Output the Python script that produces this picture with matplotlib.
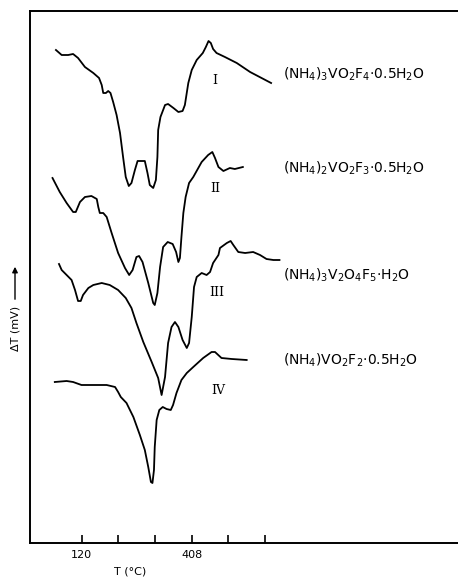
import matplotlib
matplotlib.use("Agg")
import matplotlib.pyplot as plt

plt.rcParams['mathtext.default'] = 'regular'

# DTA traces, T in deg C, dT in arbitrary units (offset per curve as in the figure)
T1 = [52, 67, 84, 97, 110, 128, 150, 165, 172, 176, 183, 189, 195, 202, 211, 220, 228, 235,
      243, 250, 259, 266, 277, 285, 292, 298, 307, 314, 318, 320, 326, 338, 346, 360, 373,
      384, 390, 399, 408, 421, 437, 445, 452, 458, 464, 473, 495, 526, 561, 596, 616]
d1 = [493, 488, 488, 489, 485, 476, 470, 465, 458, 450, 450, 452, 450, 441, 428, 410, 386, 366,
      357, 360, 373, 382, 382, 382, 370, 358, 355, 363, 386, 413, 426, 438, 439, 435, 431,
      432, 438, 460, 473, 483, 490, 496, 502, 500, 494, 490, 486, 480, 471, 464, 460]

T2 = [43, 62, 80, 97, 104, 115, 128, 145, 159, 163, 167, 176, 185, 198, 215, 233, 244, 253,
      263, 270, 279, 294, 307, 311, 318, 325, 333, 345, 358, 367, 373, 377, 381, 386, 392,
      401, 412, 434, 451, 462, 469, 478, 491, 508, 521, 542]
d2 = [365, 351, 340, 331, 331, 341, 346, 347, 344, 336, 330, 330, 326, 310, 290, 275, 268, 273,
      286, 287, 281, 260, 240, 238, 250, 276, 296, 301, 299, 291, 281, 285, 306, 330, 346,
      360, 366, 381, 388, 391, 385, 376, 372, 375, 374, 376]

T3 = [60, 67, 80, 93, 102, 110, 117, 123, 137, 150, 172, 193, 215, 235, 250, 263, 281, 303,
      320, 329, 338, 346, 355, 364, 373, 384, 395, 401, 408, 414, 421, 434, 447, 456, 464,
      478, 482, 500, 510, 517, 530, 548, 569, 587, 604, 622, 638]
d3 = [279, 273, 268, 263, 253, 242, 242, 248, 255, 258, 260, 258, 253, 245, 235, 220, 201, 181,
      165, 148, 166, 200, 216, 221, 216, 203, 195, 200, 226, 256, 266, 270, 268, 271, 280,
      288, 295, 300, 302, 298, 291, 290, 291, 288, 284, 283, 283]

T4 = [49, 80, 97, 119, 150, 185, 207, 215, 222, 237, 255, 272, 285, 294, 301, 305, 309, 311,
      316, 323, 332, 342, 353, 359, 368, 381, 395, 412, 438, 460, 469, 486, 513, 552]
d4 = [161, 162, 161, 158, 158, 158, 156, 151, 146, 140, 126, 108, 93, 76, 61, 60, 73, 96,
      123, 133, 136, 134, 133, 138, 150, 163, 170, 176, 185, 191, 191, 185, 184, 183]

curves = [(T1, d1), (T2, d2), (T3, d3), (T4, d4)]
numerals = ['I', 'II', 'III', 'IV']
num_pos = [(469, 463), (471, 354), (474, 250), (477, 153)]
formulas = ['(NH$_4$)$_3$VO$_2$F$_4$·0.5H$_2$O',
            '(NH$_4$)$_2$VO$_2$F$_3$·0.5H$_2$O',
            '(NH$_4$)$_3$V$_2$O$_4$F$_5$·H$_2$O',
            '(NH$_4$)VO$_2$F$_2$·0.5H$_2$O']
formula_y = [469, 375, 268, 183]
formula_x = 647

ticks = [120, 216, 312, 408, 504, 600]
tick_labels = ['120', '', '', '408', '', '']

fig = plt.figure(figsize=(4.58, 5.78), dpi=100)
ax = fig.add_axes([30/458, 35/578, 1 - 30/458, 532/578])

for T, d in curves:
    ax.plot(T, d, color='black', lw=1.3, solid_joinstyle='round')

for s, (x, y) in zip(numerals, num_pos):
    ax.text(x, y, s, ha='center', va='center', fontsize=9, family='DejaVu Serif')

for s, y in zip(formulas, formula_y):
    ax.text(formula_x, y, s, ha='left', va='center', fontsize=10)

ax.set_xlim(-16, 1106)
ax.set_ylim(0, 532)
ax.set_xticks(ticks)
ax.set_xticklabels(tick_labels, fontsize=8)
ax.tick_params(axis='x', direction='in', length=6, width=1.2, pad=5)
ax.set_yticks([])
ax.spines['right'].set_visible(False)
for sp in ['left', 'top', 'bottom']:
    ax.spines[sp].set_linewidth(1.4)

fig.text(130/458, 1 - 572/578, 'T (°C)', ha='center', va='center', fontsize=8)
fig.text(15/458, 1 - 328/578, 'ΔT (mV)', ha='center', va='center', rotation=90, fontsize=8)
fig.add_artist(matplotlib.patches.FancyArrowPatch((15/458, 1 - 302/578), (15/458, 1 - 264/578),
                                                  transform=fig.transFigure, arrowstyle='-|>',
                                                  mutation_scale=8, lw=1, color='black'))

fig.savefig('out.png', dpi=100)
